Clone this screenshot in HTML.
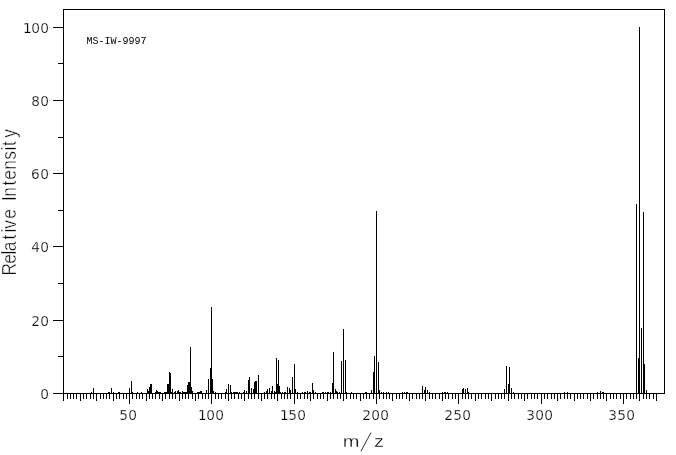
<!DOCTYPE html>
<html><head><meta charset="utf-8"><title>MS-IW-9997</title>
<style>
html,body{margin:0;padding:0;background:#fff;}
body{width:676px;height:455px;overflow:hidden;}
svg{display:block;filter:grayscale(1);}
.num{font-family:"DejaVu Sans","Liberation Sans",sans-serif;font-size:13.7px;fill:#000;stroke:#fff;stroke-width:0.25px;}
.lab{font-family:"Liberation Sans","DejaVu Sans",sans-serif;font-size:20px;fill:#000;stroke:#fff;stroke-width:0.3px;}
.ri{stroke-width:0.45px;}
.id{font-family:"Liberation Mono","DejaVu Sans Mono",monospace;font-size:10px;fill:#000;}
</style></head>
<body>
<svg width="676" height="455" viewBox="0 0 676 455">
<rect width="676" height="455" fill="#fff"/>
<path d="M63 9h1v385h-1zM664 9h1v385h-1zM63 9h602v1h-602zM63 393h602v1h-602zM63 394h1v7h-1zM67 394h1v5h-1zM70 394h1v5h-1zM73 394h1v5h-1zM76 394h1v5h-1zM80 394h1v7h-1zM83 394h1v5h-1zM86 394h1v5h-1zM90 394h1v5h-1zM93 394h1v5h-1zM96 394h1v7h-1zM100 394h1v5h-1zM103 394h1v5h-1zM106 394h1v5h-1zM109 394h1v5h-1zM113 394h1v7h-1zM116 394h1v5h-1zM119 394h1v5h-1zM123 394h1v5h-1zM126 394h1v5h-1zM129 394h1v10h-1zM132 394h1v5h-1zM136 394h1v5h-1zM139 394h1v5h-1zM142 394h1v5h-1zM146 394h1v7h-1zM149 394h1v5h-1zM152 394h1v5h-1zM155 394h1v5h-1zM159 394h1v5h-1zM162 394h1v7h-1zM165 394h1v5h-1zM169 394h1v5h-1zM172 394h1v5h-1zM175 394h1v5h-1zM179 394h1v7h-1zM182 394h1v5h-1zM185 394h1v5h-1zM188 394h1v5h-1zM192 394h1v5h-1zM195 394h1v7h-1zM198 394h1v5h-1zM202 394h1v5h-1zM205 394h1v5h-1zM208 394h1v5h-1zM211 394h1v10h-1zM215 394h1v5h-1zM218 394h1v5h-1zM221 394h1v5h-1zM225 394h1v5h-1zM228 394h1v7h-1zM231 394h1v5h-1zM234 394h1v5h-1zM238 394h1v5h-1zM241 394h1v5h-1zM244 394h1v7h-1zM248 394h1v5h-1zM251 394h1v5h-1zM254 394h1v5h-1zM258 394h1v5h-1zM261 394h1v7h-1zM264 394h1v5h-1zM267 394h1v5h-1zM271 394h1v5h-1zM274 394h1v5h-1zM277 394h1v7h-1zM281 394h1v5h-1zM284 394h1v5h-1zM287 394h1v5h-1zM290 394h1v5h-1zM294 394h1v10h-1zM297 394h1v5h-1zM300 394h1v5h-1zM304 394h1v5h-1zM307 394h1v5h-1zM310 394h1v7h-1zM313 394h1v5h-1zM317 394h1v5h-1zM320 394h1v5h-1zM323 394h1v5h-1zM327 394h1v7h-1zM330 394h1v5h-1zM333 394h1v5h-1zM337 394h1v5h-1zM340 394h1v5h-1zM343 394h1v7h-1zM346 394h1v5h-1zM350 394h1v5h-1zM353 394h1v5h-1zM356 394h1v5h-1zM360 394h1v7h-1zM363 394h1v5h-1zM366 394h1v5h-1zM369 394h1v5h-1zM373 394h1v5h-1zM376 394h1v10h-1zM379 394h1v5h-1zM383 394h1v5h-1zM386 394h1v5h-1zM389 394h1v5h-1zM392 394h1v7h-1zM396 394h1v5h-1zM399 394h1v5h-1zM402 394h1v5h-1zM406 394h1v5h-1zM409 394h1v7h-1zM412 394h1v5h-1zM416 394h1v5h-1zM419 394h1v5h-1zM422 394h1v5h-1zM425 394h1v7h-1zM429 394h1v5h-1zM432 394h1v5h-1zM435 394h1v5h-1zM439 394h1v5h-1zM442 394h1v7h-1zM445 394h1v5h-1zM448 394h1v5h-1zM452 394h1v5h-1zM455 394h1v5h-1zM458 394h1v10h-1zM462 394h1v5h-1zM465 394h1v5h-1zM468 394h1v5h-1zM471 394h1v5h-1zM475 394h1v7h-1zM478 394h1v5h-1zM481 394h1v5h-1zM485 394h1v5h-1zM488 394h1v5h-1zM491 394h1v7h-1zM495 394h1v5h-1zM498 394h1v5h-1zM501 394h1v5h-1zM504 394h1v5h-1zM508 394h1v7h-1zM511 394h1v5h-1zM514 394h1v5h-1zM518 394h1v5h-1zM521 394h1v5h-1zM524 394h1v7h-1zM527 394h1v5h-1zM531 394h1v5h-1zM534 394h1v5h-1zM537 394h1v5h-1zM541 394h1v10h-1zM544 394h1v5h-1zM547 394h1v5h-1zM551 394h1v5h-1zM554 394h1v5h-1zM557 394h1v7h-1zM560 394h1v5h-1zM564 394h1v5h-1zM567 394h1v5h-1zM570 394h1v5h-1zM574 394h1v7h-1zM577 394h1v5h-1zM580 394h1v5h-1zM583 394h1v5h-1zM587 394h1v5h-1zM590 394h1v7h-1zM593 394h1v5h-1zM597 394h1v5h-1zM600 394h1v5h-1zM603 394h1v5h-1zM606 394h1v7h-1zM610 394h1v5h-1zM613 394h1v5h-1zM616 394h1v5h-1zM620 394h1v5h-1zM623 394h1v10h-1zM626 394h1v5h-1zM630 394h1v5h-1zM633 394h1v5h-1zM636 394h1v5h-1zM639 394h1v7h-1zM643 394h1v5h-1zM646 394h1v5h-1zM649 394h1v5h-1zM653 394h1v5h-1zM656 394h1v7h-1zM53 393h10v1h-10zM58 356h5v1h-5zM53 320h10v1h-10zM58 283h5v1h-5zM53 246h10v1h-10zM58 210h5v1h-5zM53 173h10v1h-10zM58 137h5v1h-5zM53 100h10v1h-10zM58 63h5v1h-5zM53 27h10v1h-10zM91 392h1v1h-1zM93 388h1v5h-1zM108 392h1v1h-1zM109 392h1v1h-1zM111 388h1v5h-1zM113 392h1v1h-1zM118 392h1v1h-1zM119 392h1v1h-1zM129 388h1v5h-1zM131 381h1v12h-1zM132 392h1v1h-1zM137 392h1v1h-1zM141 392h1v1h-1zM147 389h1v4h-1zM148 391h1v2h-1zM149 387h1v6h-1zM150 384h1v9h-1zM151 384h1v9h-1zM155 392h1v1h-1zM156 390h1v3h-1zM157 391h1v2h-1zM158 392h1v1h-1zM159 392h1v1h-1zM160 392h1v1h-1zM164 392h1v1h-1zM165 392h1v1h-1zM166 392h1v1h-1zM167 384h1v9h-1zM168 384h1v9h-1zM169 372h1v21h-1zM170 373h1v20h-1zM171 392h1v1h-1zM172 389h1v4h-1zM174 392h1v1h-1zM175 391h1v2h-1zM177 391h1v2h-1zM178 390h1v3h-1zM179 392h1v1h-1zM180 392h1v1h-1zM182 391h1v2h-1zM183 392h1v1h-1zM184 392h1v1h-1zM185 392h1v1h-1zM186 392h1v1h-1zM187 385h1v8h-1zM188 382h1v11h-1zM189 382h1v11h-1zM190 347h1v46h-1zM191 387h1v6h-1zM192 391h1v2h-1zM197 392h1v1h-1zM198 392h1v1h-1zM199 392h1v1h-1zM200 391h1v2h-1zM201 391h1v2h-1zM206 390h1v3h-1zM208 379h1v14h-1zM210 368h1v25h-1zM211 307h1v86h-1zM212 379h1v14h-1zM213 391h1v2h-1zM215 392h1v1h-1zM225 392h1v1h-1zM226 389h1v4h-1zM228 384h1v9h-1zM230 385h1v8h-1zM231 392h1v1h-1zM233 392h1v1h-1zM234 392h1v1h-1zM235 392h1v1h-1zM236 392h1v1h-1zM237 392h1v1h-1zM239 392h1v1h-1zM243 392h1v1h-1zM244 390h1v3h-1zM246 391h1v2h-1zM248 380h1v13h-1zM249 377h1v16h-1zM251 388h1v5h-1zM253 389h1v4h-1zM254 382h1v11h-1zM255 381h1v12h-1zM256 381h1v12h-1zM258 375h1v18h-1zM264 392h1v1h-1zM266 391h1v2h-1zM267 389h1v4h-1zM269 388h1v5h-1zM271 391h1v2h-1zM272 386h1v7h-1zM274 391h1v2h-1zM275 392h1v1h-1zM276 358h1v35h-1zM277 384h1v9h-1zM278 360h1v33h-1zM279 386h1v7h-1zM280 392h1v1h-1zM282 392h1v1h-1zM284 392h1v1h-1zM285 392h1v1h-1zM287 387h1v6h-1zM289 388h1v5h-1zM290 390h1v3h-1zM292 377h1v16h-1zM294 364h1v29h-1zM295 389h1v4h-1zM297 392h1v1h-1zM302 392h1v1h-1zM304 392h1v1h-1zM305 392h1v1h-1zM307 391h1v2h-1zM309 392h1v1h-1zM310 392h1v1h-1zM312 383h1v10h-1zM313 390h1v3h-1zM315 392h1v1h-1zM322 392h1v1h-1zM323 392h1v1h-1zM325 392h1v1h-1zM327 392h1v1h-1zM328 392h1v1h-1zM330 392h1v1h-1zM332 383h1v10h-1zM333 352h1v41h-1zM335 389h1v4h-1zM336 391h1v2h-1zM337 392h1v1h-1zM339 392h1v1h-1zM341 361h1v32h-1zM343 329h1v64h-1zM345 360h1v33h-1zM346 392h1v1h-1zM351 392h1v1h-1zM365 392h1v1h-1zM366 392h1v1h-1zM371 390h1v3h-1zM373 372h1v21h-1zM374 356h1v37h-1zM376 211h1v182h-1zM378 362h1v31h-1zM379 390h1v3h-1zM381 392h1v1h-1zM383 392h1v1h-1zM386 392h1v1h-1zM388 392h1v1h-1zM402 392h1v1h-1zM404 392h1v1h-1zM406 392h1v1h-1zM407 392h1v1h-1zM422 386h1v7h-1zM424 390h1v3h-1zM425 387h1v6h-1zM427 390h1v3h-1zM429 392h1v1h-1zM442 392h1v1h-1zM444 392h1v1h-1zM445 392h1v1h-1zM447 392h1v1h-1zM462 389h1v4h-1zM463 388h1v5h-1zM465 389h1v4h-1zM467 388h1v5h-1zM468 392h1v1h-1zM504 389h1v4h-1zM506 366h1v27h-1zM508 384h1v9h-1zM509 367h1v26h-1zM511 388h1v5h-1zM513 392h1v1h-1zM564 392h1v1h-1zM567 392h1v1h-1zM597 392h1v1h-1zM600 391h1v2h-1zM602 392h1v1h-1zM603 392h1v1h-1zM636 204h1v189h-1zM638 358h1v35h-1zM639 27h1v366h-1zM641 328h1v65h-1zM643 212h1v181h-1zM644 364h1v29h-1zM646 390h1v3h-1z" fill="#000" shape-rendering="crispEdges"/>
<text x="40.15" y="399" class="num">0</text><text x="31.33 40.15" y="326" class="num">20</text><text x="31.19 40.15" y="252" class="num">40</text><text x="31.09 40.15" y="179" class="num">60</text><text x="31.15 40.15" y="106" class="num">80</text><text x="23.02 31.15 40.15" y="33" class="num">100</text>
<text x="119.21 128.15" y="420" class="num">50</text><text x="198.02 206.15 215.15" y="420" class="num">100</text><text x="280.02 288.21 297.15" y="420" class="num">150</text><text x="362.33 371.15 380.15" y="420" class="num">200</text><text x="444.33 453.21 462.15" y="420" class="num">250</text><text x="526.17 535.15 544.15" y="420" class="num">300</text><text x="608.17 617.21 626.15" y="420" class="num">350</text>
<g class="lab">
<text transform="translate(0 447) scale(1 0.86)" x="342.67" y="0">m</text>
<text transform="matrix(0.7 0 -0.5008 1.2925 360.47 451.24)" x="0" y="0">/</text>
<text transform="translate(0 447) scale(1 0.86)" x="374.09" y="0">z</text>
<text class="ri" transform="translate(16 0) rotate(-90) scale(0.87 1)" x="-316.77 -303.24 -292.46 -288.74 -275.27 -267.16 -263.05 -251.52 -243.52 -230.94 -226.27 -213.2 -206.69 -195.23 -183.65 -172.91 -167.8 -158.45" y="0">Relative Intensity</text>
</g>
<text x="86.5 92.55 98.5 104.5 110.5 116.5 122.5 128.5 134.5 140.5" y="44" class="id">MS-IW-9997</text>
</svg>
</body></html>
